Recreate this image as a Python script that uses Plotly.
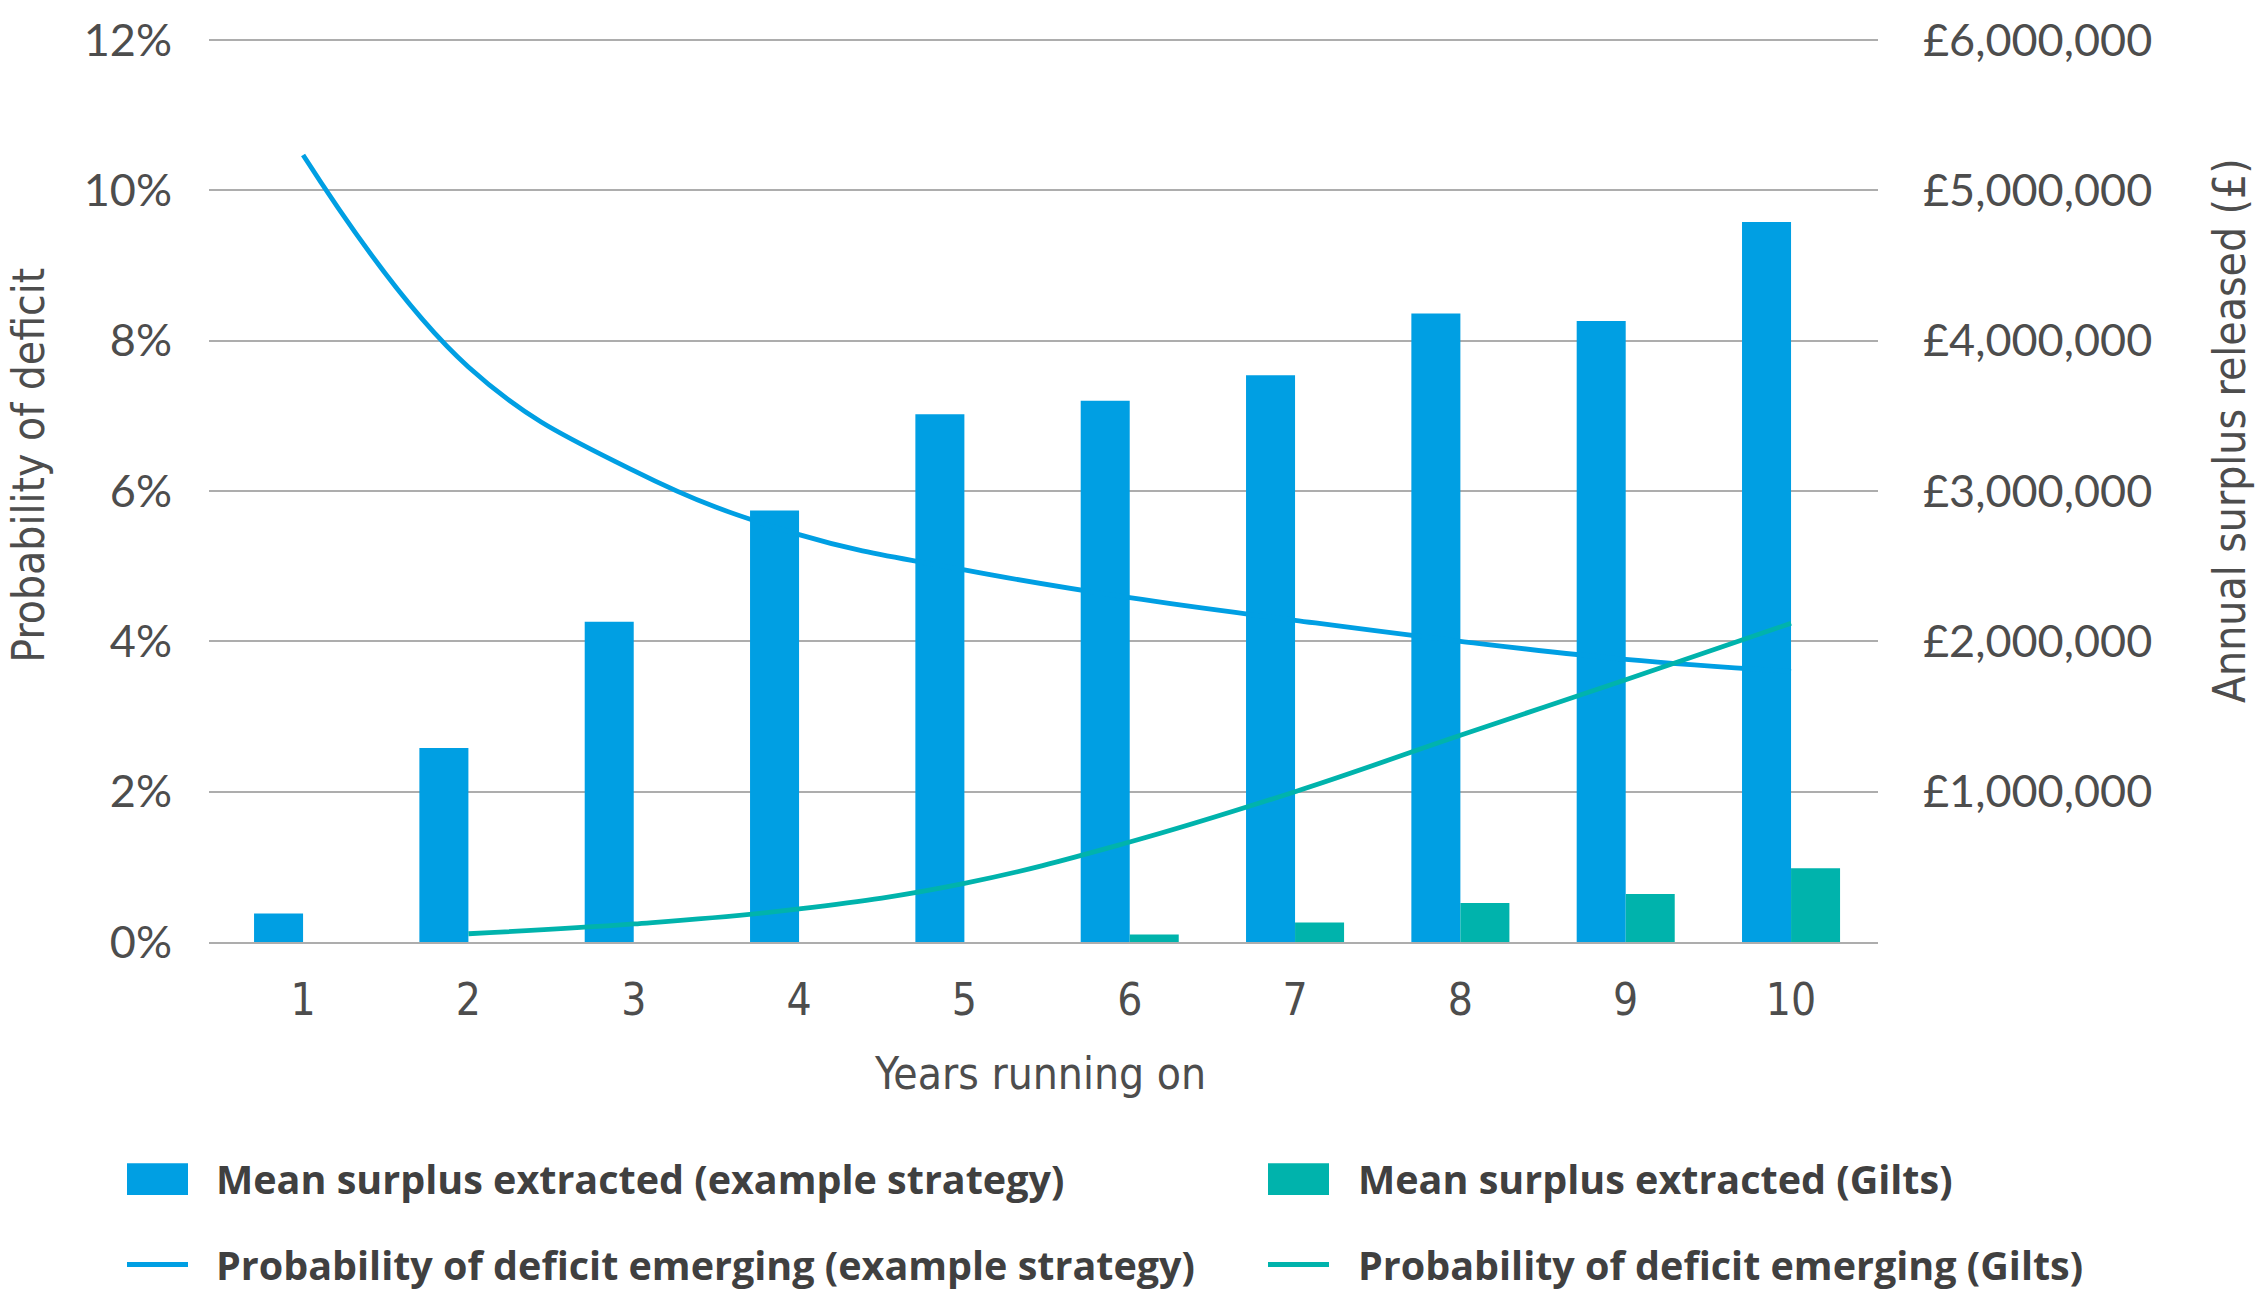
import plotly.graph_objects as go

# ---- data ----------------------------------------------------------------
years = [1, 2, 3, 4, 5, 6, 7, 8, 9, 10]
year_labels = ["1", "2", "3", "4", "5", "6", "7", "8", "9", "10"]

# Mean surplus extracted per year (GBP)
surplus_example = [190000, 1290000, 2130000, 2870000, 3510000,
                   3600000, 3770000, 4180000, 4130000, 4790000]
surplus_gilts = [0, 0, 0, 0, 0, 50000, 130000, 260000, 320000, 490000]

# Probability of a deficit emerging (%)
deficit_prob_example = [10.47, 7.65, 6.27, 5.42, 4.95, 4.58, 4.28, 4.00, 3.76, 3.60]
deficit_prob_gilts = [None, 0.11, 0.24, 0.44, 0.78, 1.33, 2.00, 2.75, 3.49, 4.24]

pct_ticks = [0, 2, 4, 6, 8, 10, 12]
money_ticks = [0, 1000000, 2000000, 3000000, 4000000, 5000000, 6000000]

series_names = [
    "Mean surplus extracted (example strategy)",
    "Mean surplus extracted (Gilts)",
    "Probability of deficit emerging (example strategy)",
    "Probability of deficit emerging (Gilts)",
]

# ---- styling -------------------------------------------------------------
BLUE = "#009FE3"
TEAL = "#00B3AC"
GRID = "#ADADAD"
TXT = "#4D4D4D"
LEG_TXT = "#404040"
TICK_FONT = "Lato, 'Noto Sans', sans-serif"
COND_FONT = "'Liberation Sans Narrow', 'DejaVu Sans Condensed', 'Roboto Condensed', Roboto, sans-serif"
LEG_FONT = "'Open Sans', Lato, sans-serif"

W, H = 2265, 1297
L, R, T, B = 209, 387, 31, 355
plot_w = W - L - R
plot_h = H - T - B

# top gridline sits 2px inside the plot area so it is not clipped
HEAD = plot_h / (plot_h - 2)


def px_to_paper_x(px):
    return (px - L) / plot_w


def px_to_paper_y(py):
    return (H - B - py) / plot_h


fig = go.Figure()

# Bars (GBP) on the primary axis, drawn underneath
fig.add_bar(x=years, y=surplus_example, name=series_names[0],
            marker=dict(color=BLUE, line=dict(width=0)), yaxis="y")
fig.add_bar(x=years, y=surplus_gilts, name=series_names[1],
            marker=dict(color=TEAL, line=dict(width=0)), yaxis="y")

# Probability lines (%) on the overlaying axis, drawn on top
fig.add_scatter(x=years, y=deficit_prob_example, name=series_names[2], mode="lines",
                line=dict(color=BLUE, width=4.8, shape="spline", smoothing=1.15),
                yaxis="y2")
fig.add_scatter(x=years, y=deficit_prob_gilts, name=series_names[3], mode="lines",
                line=dict(color=TEAL, width=4.8, shape="spline", smoothing=1.15),
                yaxis="y2", connectgaps=False)

money_labels = ["" if v == 0 else "£{:,}".format(v) for v in money_ticks]
pct_labels = ["{}%".format(v) for v in pct_ticks]

fig.update_layout(
    width=W, height=H,
    margin=dict(l=L, r=R, t=T, b=B, pad=0),
    paper_bgcolor="white", plot_bgcolor="white",
    barmode="group", bargap=0.407, bargroupgap=0,
    showlegend=False,
    xaxis=dict(
        range=[0.431, 10.526], tickvals=years, ticktext=year_labels,
        showgrid=False, zeroline=False, showline=True, linecolor=GRID, linewidth=1.5,
        ticks="", tickfont=dict(family=COND_FONT, size=44, color=TXT),
        ticklabelstandoff=18,
    ),
    yaxis=dict(
        side="right", range=[0, 6000000 * HEAD], tickvals=money_ticks, ticktext=money_labels,
        showgrid=True, gridcolor=GRID, gridwidth=1.5, zeroline=False, showline=False,
        ticks="", tickfont=dict(family=TICK_FONT, size=45, color=TXT),
        ticklabelstandoff=44,
    ),
    yaxis2=dict(
        side="left", overlaying="y", range=[0, 12 * HEAD], tickvals=pct_ticks, ticktext=pct_labels,
        showgrid=False, zeroline=False, showline=False,
        ticks="", tickfont=dict(family=TICK_FONT, size=45, color=TXT),
        ticklabelstandoff=36,
    ),
)

annotations = [
    dict(text="Probability of deficit", x=px_to_paper_x(29), y=px_to_paper_y(462),
         xref="paper", yref="paper", showarrow=False, textangle=-90,
         xanchor="center", yanchor="middle",
         font=dict(family=COND_FONT, size=44, color=TXT)),
    dict(text="Annual surplus released (£)", x=px_to_paper_x(2230), y=px_to_paper_y(427),
         xref="paper", yref="paper", showarrow=False, textangle=-90,
         xanchor="center", yanchor="middle",
         font=dict(family=COND_FONT, size=44, color=TXT)),
    dict(text="Years running on", x=px_to_paper_x(1040), y=px_to_paper_y(1075),
         xref="paper", yref="paper", showarrow=False,
         xanchor="center", yanchor="middle",
         font=dict(family=COND_FONT, size=44, color=TXT)),
]

# Legend laid out as a 2 x 2 grid below the plot
shapes = []
legend_items = [
    # (name, colour, kind, swatch x0, swatch x1, row centre y, text x)
    (series_names[0], BLUE, "box", 127, 188, 1181, 214),
    (series_names[1], TEAL, "box", 1268, 1329, 1181, 1356),
    (series_names[2], BLUE, "line", 127, 188, 1267, 214),
    (series_names[3], TEAL, "line", 1268, 1329, 1267, 1356),
]
for name, colour, kind, sx0, sx1, cy, tx in legend_items:
    if kind == "box":
        shapes.append(dict(type="rect", xref="paper", yref="paper",
                           x0=px_to_paper_x(sx0), x1=px_to_paper_x(sx1),
                           y0=px_to_paper_y(cy + 16), y1=px_to_paper_y(cy - 16),
                           fillcolor=colour, line=dict(width=0)))
    else:
        shapes.append(dict(type="line", xref="paper", yref="paper",
                           x0=px_to_paper_x(sx0), x1=px_to_paper_x(sx1),
                           y0=px_to_paper_y(cy), y1=px_to_paper_y(cy),
                           line=dict(color=colour, width=4.8)))
    annotations.append(dict(text="<b>" + name + "</b>", x=px_to_paper_x(tx), y=px_to_paper_y(cy),
                            xref="paper", yref="paper", showarrow=False,
                            xanchor="left", yanchor="middle",
                            font=dict(family=LEG_FONT, size=39.5, color=LEG_TXT)))

fig.update_layout(annotations=annotations, shapes=shapes)

fig.write_html("out.html")
